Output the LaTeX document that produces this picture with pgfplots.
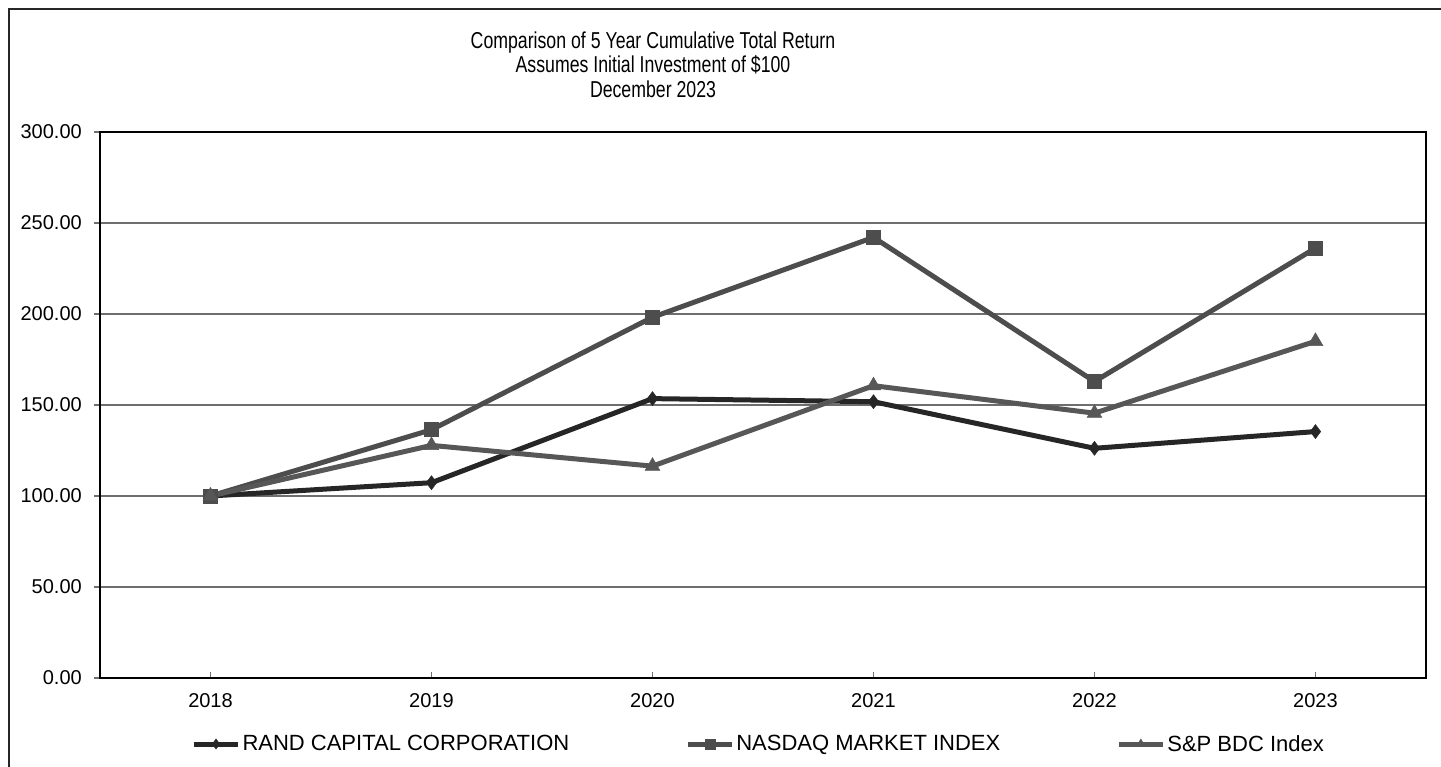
\documentclass[border=0pt]{standalone}
\usepackage{fontspec}
\setmainfont{Liberation Sans}
\usepackage{graphicx}
\usepackage{pgfplots}
\pgfplotsset{compat=1.18}

\definecolor{randc}{HTML}{262626}
\definecolor{nasc}{HTML}{4D4D4D}
\definecolor{spc}{HTML}{575757}
\definecolor{gridc}{HTML}{6E6E6E}

\newcommand{\titlefont}{\fontsize{23}{27}\selectfont}

\begin{document}
\begin{tikzpicture}
\useasboundingbox (0pt,0pt) rectangle (1441pt,767pt);
% outer frame of the chart area (cut at right and bottom)
\draw[line width=1.5pt, black!85] (9pt,-5pt) -- (9pt,758pt) -- (1450pt,758pt);

% title, three lines
\node[anchor=base] at (653pt,718.5pt) {\titlefont\scalebox{0.77}[1]{Comparison of 5 Year Cumulative Total Return}};
\node[anchor=base] at (653pt,694pt) {\titlefont\scalebox{0.77}[1]{Assumes Initial Investment of \$100}};
\node[anchor=base] at (653pt,669.5pt) {\titlefont\scalebox{0.77}[1]{December 2023}};

\begin{axis}[
    at={(100pt,89pt)}, anchor=south west,
    width=1326pt, height=546pt, scale only axis,
    xmin=-0.5, xmax=5.5,
    ymin=0, ymax=300,
    xtick={0,1,2,3,4,5},
    xticklabels={2018,2019,2020,2021,2022,2023},
    ytick={0,50,100,150,200,250,300},
    yticklabel={\pgfmathprintnumber[fixed,fixed zerofill,precision=2]{\tick}},
    /pgf/number format/assume math mode=true,
    tick pos=left,
    xtick align=inside,
    ytick align=outside,
    major tick length=6pt,
    tick style={line width=1.2pt, gridc},
    ymajorgrids=true,
    grid style={line width=1.3pt, gridc},
    axis line style={line width=2.6pt, black},
    ticklabel style={font=\fontsize{20}{24}\selectfont, inner sep=0pt},
    xticklabel style={yshift=-15pt},
    yticklabel style={xshift=-12pt},
    legend columns=3,
    legend style={draw=none, fill=none, at={(0.4960,-0.1209)}, anchor=center,
        font=\fontsize{22}{26}\selectfont, inner sep=0pt,
        nodes={inner sep=0pt},
        /tikz/every even column/.append style={column sep=116pt},
        /tikz/every odd column/.append style={column sep=2pt}},
    legend cell align=left,
    legend image code/.code={
        \draw[mark repeat=2,mark phase=2,#1,mark size=5pt]
            plot coordinates {(0pt,0pt)(22pt,0pt)(44pt,0pt)};},
]

\addplot[color=randc, line width=5pt, mark=diamond*, mark size=7pt,
    mark options={solid, fill=randc, line width=0.5pt}]
    coordinates {(0,100.0)(1,107.3)(2,153.5)(3,151.8)(4,126.2)(5,135.4)};
\addlegendentry{RAND CAPITAL CORPORATION}

\addplot[color=nasc, line width=5pt, mark=square*, mark size=7pt,
    mark options={solid, fill=nasc, line width=0.5pt}]
    coordinates {(0,100.0)(1,136.4)(2,198.2)(3,242.1)(4,162.9)(5,236.2)};
\addlegendentry{NASDAQ MARKET INDEX}

\addplot[color=spc, line width=5pt, mark=triangle*, mark size=8.5pt,
    mark options={solid, fill=spc, line width=0.5pt}]
    coordinates {(0,100.0)(1,127.8)(2,116.4)(3,160.6)(4,145.5)(5,185.0)};
\addlegendentry{S\&P BDC Index}

\end{axis}
\end{tikzpicture}
\end{document}
